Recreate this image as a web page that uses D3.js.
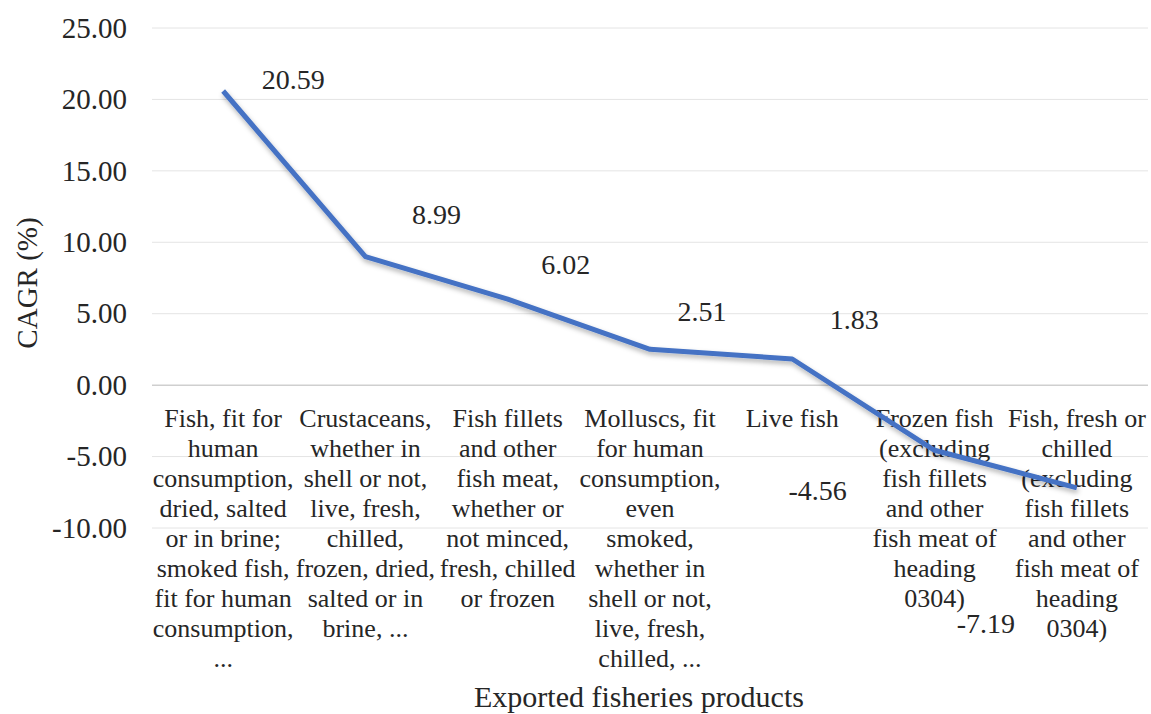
<!DOCTYPE html>
<html>
<head>
<meta charset="utf-8">
<script src="https://cdn.jsdelivr.net/npm/d3@7"></script>
<style>
  body { margin: 0; background: #fff; }
</style>
</head>
<body>
<div id="chart"></div>
<script>
// Exported fisheries products, CAGR (%)
var categories = [
  ["Fish, fit for", "human", "consumption,", "dried, salted", "or in brine;", "smoked fish,", "fit for human", "consumption,", "..."],
  ["Crustaceans,", "whether in", "shell or not,", "live, fresh,", "chilled,", "frozen, dried,", "salted or in", "brine, ..."],
  ["Fish fillets", "and other", "fish meat,", "whether or", "not minced,", "fresh, chilled", "or frozen"],
  ["Molluscs, fit", "for human", "consumption,", "even", "smoked,", "whether in", "shell or not,", "live, fresh,", "chilled, ..."],
  ["Live fish"],
  ["Frozen fish", "(excluding", "fish fillets", "and other", "fish meat of", "heading", "0304)"],
  ["Fish, fresh or", "chilled", "(excluding", "fish fillets", "and other", "fish meat of", "heading", "0304)"]
];
var cagr = [20.59, 8.99, 6.02, 2.51, 1.83, -4.56, -7.19];
var yTicks = [-10, -5, 0, 5, 10, 15, 20, 25];

// label nudges (dx, dy) from each point, as placed in the original
var labelOffsets = [[70, -12], [71, -43], [58, -35], [52, -38], [62, -40], [-117, 40], [-91, 135]];

var FONT = "'Liberation Serif', Tinos, 'Times New Roman', 'Noto Serif', 'DejaVu Serif', serif";

var W = 1151, H = 714;
var margin = {top: 28, right: 3, bottom: 186, left: 152};
var width = W - margin.left - margin.right,
    height = H - margin.top - margin.bottom;

var fmt = function(d){ return d3.format(".2f")(d).replace("\u2212", "-"); };

var svg = d3.select("#chart").append("svg")
    .attr("width", W)
    .attr("height", H)
    .attr("font-family", FONT);

var defs = svg.append("defs");
var shadow = defs.append("filter").attr("id", "shadow")
    .attr("x", "-10%").attr("y", "-10%").attr("width", "120%").attr("height", "130%");
shadow.append("feDropShadow")
    .attr("dx", 1).attr("dy", 3).attr("stdDeviation", 2.5)
    .attr("flood-color", "#000").attr("flood-opacity", 0.3);

var g = svg.append("g")
    .attr("transform", "translate(" + margin.left + "," + margin.top + ")");

var xScale = d3.scaleBand()
    .domain(d3.range(categories.length))
    .range([0, width]);

var yScale = d3.scaleLinear()
    .domain([-10, 25])
    .range([height, 0]);

// gridlines
g.selectAll(".grid")
  .data(yTicks)
  .enter()
  .append("line")
    .attr("x1", 0)
    .attr("x2", width)
    .attr("y1", function(d){ return yScale(d); })
    .attr("y2", function(d){ return yScale(d); })
    .attr("stroke", function(d){ return d === 0 ? "#cfcfcf" : "#e4e4e4"; })
    .attr("stroke-width", function(d){ return d === 0 ? 1.5 : 1; });

// y axis labels
var yAxis = g.append("g")
    .call(d3.axisLeft(yScale).tickValues(yTicks).tickFormat(fmt).tickSize(0).tickPadding(25));
yAxis.attr("font-family", FONT);
yAxis.select(".domain").remove();
yAxis.selectAll("text")
    .style("font-family", FONT)
    .style("font-size", "29px")
    .attr("fill", "#262626");

// category labels, hanging below the zero line
g.selectAll(".cat")
  .data(categories)
  .enter()
  .append("text")
    .attr("class", "cat")
    .attr("text-anchor", "middle")
    .attr("fill", "#262626")
    .style("font-family", FONT)
    .style("font-size", "26px")
    .each(function(lines, i){
      var t = d3.select(this);
      lines.forEach(function(s, k){
        t.append("tspan")
          .attr("x", xScale(i) + xScale.bandwidth() / 2)
          .attr("y", yScale(0) + 42 + k * 30)
          .text(s);
      });
    });

// line
var line = d3.line()
    .x(function(d, i){ return xScale(i) + xScale.bandwidth() / 2; })
    .y(function(d){ return yScale(d); });

g.append("path")
    .datum(cagr)
    .attr("d", line)
    .attr("fill", "none")
    .attr("stroke", "#4472c4")
    .attr("stroke-width", 5)
    .attr("stroke-linejoin", "round")
    .attr("filter", "url(#shadow)");

// data labels
g.selectAll(".val")
  .data(cagr)
  .enter()
  .append("text")
    .attr("class", "val")
    .attr("text-anchor", "middle")
    .attr("dy", "0.35em")
    .attr("fill", "#262626")
    .attr("x", function(d, i){ return xScale(i) + xScale.bandwidth() / 2 + labelOffsets[i][0]; })
    .attr("y", function(d, i){ return yScale(d) + labelOffsets[i][1]; })
    .style("font-family", FONT)
    .style("font-size", "28px")
    .text(fmt);

// axis titles
svg.append("text")
    .attr("text-anchor", "middle")
    .attr("transform", "translate(27,283) rotate(-90)")
    .attr("dy", "0.35em")
    .attr("fill", "#262626")
    .style("font-family", FONT)
    .style("font-size", "29px")
    .text("CAGR (%)");

svg.append("text")
    .attr("text-anchor", "middle")
    .attr("x", 639)
    .attr("y", 707)
    .attr("fill", "#262626")
    .style("font-family", FONT)
    .style("font-size", "30px")
    .text("Exported fisheries products");
</script>
</body>
</html>
